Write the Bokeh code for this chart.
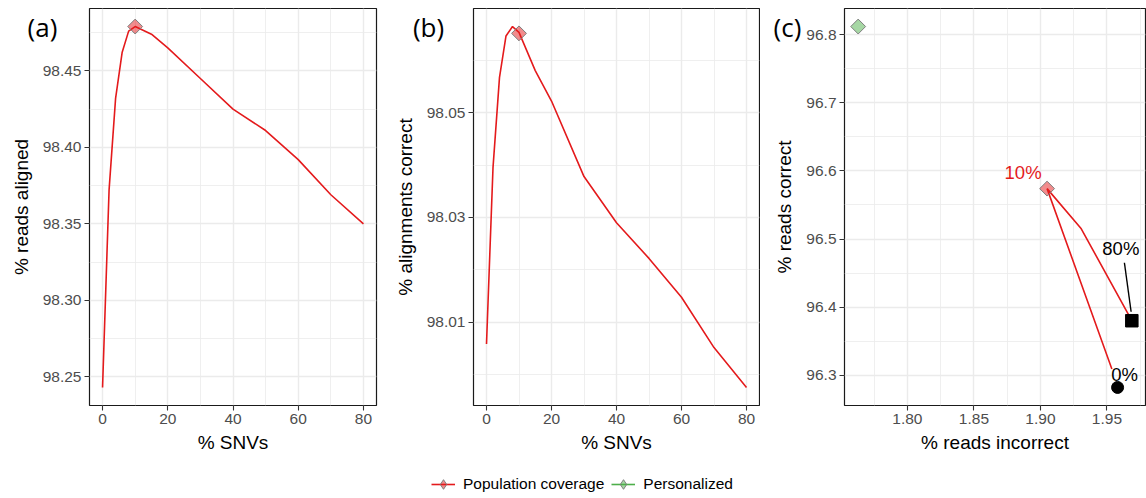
import math
from bokeh.plotting import figure
from bokeh.models import (Range1d, Legend, LegendItem, FixedTicker,
                          NumeralTickFormatter, ColumnDataSource)
from bokeh.layouts import row, column
from bokeh.embed import file_html
from bokeh.resources import INLINE
from bokeh.core.properties import value

# ---------------- data ----------------
snv_pct = [0, 2, 4, 6, 8, 10, 15, 20, 30, 40, 50, 60, 70, 80]
reads_aligned = [98.243, 98.372, 98.432, 98.462, 98.476, 98.479, 98.474,
                 98.465, 98.445, 98.425, 98.411, 98.392, 98.369, 98.350]
alignments_correct = [98.0059, 98.0395, 98.0567, 98.0646, 98.0664, 98.0653,
                      98.0580, 98.0522, 98.0378, 98.0290, 98.0222, 98.0148,
                      98.0052, 97.9976]
best_snv = [10]
best_aligned = [98.479]
best_align_correct = [98.0651]

pop_snv = [0, 10, 20, 80]
pop_incorrect = [1.9537, 1.905, 1.9307, 1.9687]
pop_correct = [96.309, 96.574, 96.515, 96.380]
best_incorrect = [1.905]
best_correct = [96.574]
pers_incorrect = [1.763]
pers_correct = [96.812]
zero_incorrect = [1.958]
zero_correct = [96.282]
eighty_incorrect = [1.9687]
eighty_correct = [96.380]

x_ticks_snv = [0, 20, 40, 60, 80]
x_minor_snv = [10, 30, 50, 70]
a_yticks = [98.25, 98.30, 98.35, 98.40, 98.45]
a_yminor = [98.275, 98.325, 98.375, 98.425, 98.475]
b_yticks = [98.01, 98.03, 98.05]
b_yminor = [98.00, 98.02, 98.04, 98.06]
c_xticks = [1.80, 1.85, 1.90, 1.95]
c_xminor = [1.775, 1.825, 1.875, 1.925, 1.975]
c_yticks = [96.3, 96.4, 96.5, 96.6, 96.7, 96.8]
c_yminor = [96.35, 96.45, 96.55, 96.65, 96.75]

panel_letters = ["(a)", "(b)", "(c)"]
legend_labels = ["Population coverage", "Personalized"]

RED = "#E41A1C"
GREEN = "#4DAF4A"
FONT = "Liberation Sans"
TOP_H = 460
FRAME_TOP = 8
FRAME_BOTTOM = 55
FRAME_H = TOP_H - FRAME_TOP - FRAME_BOTTOM
DIAMOND = 10.5


def expand(vals, frac=0.05):
    lo, hi = min(vals), max(vals)
    d = (hi - lo) * frac
    return lo - d, hi + d


def make_fig(width, left, right, xr, yr, xlabel, ylabel):
    p = figure(width=width, height=TOP_H, output_backend="svg",
               toolbar_location=None, x_range=Range1d(*xr), y_range=Range1d(*yr),
               min_border_left=left, min_border_right=right,
               min_border_top=FRAME_TOP, min_border_bottom=FRAME_BOTTOM)
    p.outline_line_color = "#1a1a1a"
    p.outline_line_width = 1.2
    p.background_fill_color = "white"
    p.border_fill_color = "white"
    for ax in (p.xaxis[0], p.yaxis[0]):
        ax.axis_line_color = None
        ax.major_tick_line_color = "#333333"
        ax.major_tick_line_width = 1.1
        ax.major_tick_out = 5
        ax.major_tick_in = 0
        ax.minor_tick_line_color = None
        ax.major_label_text_font = FONT
        ax.major_label_text_font_size = "15.5px"
        ax.major_label_text_color = "#4D4D4D"
        ax.major_label_standoff = 3
        ax.axis_label_text_font = FONT
        ax.axis_label_text_font_size = "19px"
        ax.axis_label_text_font_style = "normal"
        ax.axis_label_text_color = "black"
    p.xaxis.axis_label = xlabel
    p.yaxis.axis_label = ylabel
    p.xaxis.axis_label_standoff = 5
    p.yaxis.axis_label_standoff = 8
    for g in (p.xgrid[0], p.ygrid[0]):
        g.grid_line_color = "#EBEBEB"
        g.grid_line_width = 1.4
        g.minor_grid_line_color = "#EBEBEB"
        g.minor_grid_line_width = 0.8
    return p


def panel_letter(p, text, dx, dy):
    # anchored on the frame's top-left corner, shifted in pixels into the margin;
    # drawn at the overlay level so it is not clipped to the frame
    p.text(x=[p.x_range.start], y=[p.y_range.end], text=[text],
           x_offset=dx, y_offset=dy, text_font=value("Open Sans"),
           text_font_size="26px", text_align="center", text_baseline="middle",
           text_color="black", level="overlay")


def diamonds(p, xs, ys, color):
    p.scatter(xs, ys, marker="square", angle=math.pi / 4, size=DIAMOND,
              fill_color=color, fill_alpha=0.5, line_color="#7F7F7F",
              line_width=1)


# ---------------- panel (a) ----------------
xr_snv = expand(snv_pct)
pa = make_fig(380, 89, 4, xr_snv, expand(reads_aligned), "% SNVs", "% reads aligned")
pa.xaxis.ticker = FixedTicker(ticks=x_ticks_snv, minor_ticks=x_minor_snv)
pa.yaxis.ticker = FixedTicker(ticks=a_yticks, minor_ticks=a_yminor)
pa.xaxis.formatter = NumeralTickFormatter(format="0")
pa.yaxis.formatter = NumeralTickFormatter(format="0.00")
pa.line(snv_pct, reads_aligned, line_color=RED, line_width=1.6)
diamonds(pa, best_snv, best_aligned, RED)
panel_letter(pa, panel_letters[0], 42 - 89, 26 - FRAME_TOP)

# ---------------- panel (b) ----------------
pb = make_fig(380, 93, 1, xr_snv, expand(alignments_correct), "% SNVs",
              "% alignments correct")
pb.xaxis.ticker = FixedTicker(ticks=x_ticks_snv, minor_ticks=x_minor_snv)
pb.yaxis.ticker = FixedTicker(ticks=b_yticks, minor_ticks=b_yminor)
pb.xaxis.formatter = NumeralTickFormatter(format="0")
pb.yaxis.formatter = NumeralTickFormatter(format="0.00")
pb.line(snv_pct, alignments_correct, line_color=RED, line_width=1.6)
diamonds(pb, best_snv, best_align_correct, RED)
panel_letter(pb, panel_letters[1], 48 - 93, 26 - FRAME_TOP)

# ---------------- panel (c) ----------------
all_x = pop_incorrect + pers_incorrect + zero_incorrect + eighty_incorrect
all_y = pop_correct + pers_correct + zero_correct + eighty_correct
cxr = expand(all_x)
cyr = expand(all_y)
pc = make_fig(386, 84, 1, cxr, cyr, "% reads incorrect", "% reads correct")
pc.xaxis.ticker = FixedTicker(ticks=c_xticks, minor_ticks=c_xminor)
pc.yaxis.ticker = FixedTicker(ticks=c_yticks, minor_ticks=c_yminor)
pc.xaxis.formatter = NumeralTickFormatter(format="0.00")
pc.yaxis.formatter = NumeralTickFormatter(format="0.0")
pc.line(pop_incorrect, pop_correct, line_color=RED, line_width=1.6)

# repel segment for the 80% label (pixel offsets converted into data units)
c_frame_w = 386 - 84 - 1
dxpp = (cxr[1] - cxr[0]) / c_frame_w
dypp = (cyr[1] - cyr[0]) / FRAME_H
pc.segment(x0=[eighty_incorrect[0] - 7.4 * dxpp], y0=[eighty_correct[0] + 58 * dypp],
           x1=[eighty_incorrect[0] - 0.7 * dxpp], y1=[eighty_correct[0] + 9 * dypp],
           line_color="black", line_width=1.4)

pc.scatter(eighty_incorrect, eighty_correct, marker="square", size=12.5,
           fill_color="black", line_color="black")
pc.scatter(zero_incorrect, zero_correct, marker="circle", size=12,
           fill_color="black", line_color="black")
diamonds(pc, best_incorrect, best_correct, RED)
diamonds(pc, pers_incorrect, pers_correct, GREEN)

pc.text(best_incorrect, best_correct, text=["10%"], text_color=RED,
        text_font=value(FONT), text_font_size="18.5px", text_align="center",
        text_baseline="middle", x_offset=-24, y_offset=-16)
pc.text(zero_incorrect, zero_correct, text=["0%"], text_color="black",
        text_font=value(FONT), text_font_size="18.5px", text_align="center",
        text_baseline="middle", x_offset=7, y_offset=-13)
pc.text(eighty_incorrect, eighty_correct, text=["80%"], text_color="black",
        text_font=value(FONT), text_font_size="18.5px", text_align="center",
        text_baseline="middle", x_offset=-11, y_offset=-72)
panel_letter(pc, panel_letters[2], 27 - 84, 26 - FRAME_TOP)

# ---------------- legend strip ----------------
pl = figure(width=1146, height=38, output_backend="svg", toolbar_location=None,
            x_range=Range1d(0, 1), y_range=Range1d(0, 1), min_border=0)
pl.axis.visible = False
pl.grid.visible = False
pl.outline_line_color = None
# a single off-screen placeholder so the legend glyphs have values to draw with
hidden = ColumnDataSource(data=dict(x=[-10], y=[-10]))
l1 = pl.line("x", "y", source=hidden, line_color=RED, line_width=1.6)
m1 = pl.scatter("x", "y", source=hidden, marker="diamond", size=16,
                fill_color=RED, fill_alpha=0.5, line_color="#7F7F7F")
l2 = pl.line("x", "y", source=hidden, line_color=GREEN, line_width=1.6)
m2 = pl.scatter("x", "y", source=hidden, marker="diamond", size=16,
                fill_color=GREEN, fill_alpha=0.5, line_color="#7F7F7F")
legend = Legend(items=[LegendItem(label=legend_labels[0], renderers=[l1, m1]),
                       LegendItem(label=legend_labels[1], renderers=[l2, m2])],
                orientation="horizontal", location=(431, -1),
                glyph_width=24, glyph_height=30, label_standoff=8, spacing=7,
                padding=0, margin=0, border_line_color=None,
                background_fill_alpha=0,
                label_text_font=FONT, label_text_font_size="15.5px",
                label_text_color="black")
pl.add_layout(legend, "center")

layout = column(row(pa, pb, pc), pl)
open("out.html", "w").write(file_html(layout, INLINE))
